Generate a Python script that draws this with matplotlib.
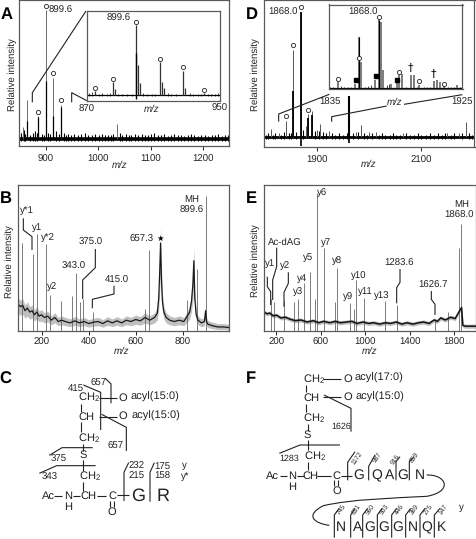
#MS spectra panels A-F with peptide structures
import matplotlib
matplotlib.use("Agg")
import matplotlib.pyplot as plt
from matplotlib.path import Path
from matplotlib.patches import PathPatch

plt.rcParams['font.family'] = ['Liberation Sans', 'DejaVu Sans']
plt.rcParams['mathtext.default'] = 'regular'
plt.rcParams['text.hinting'] = 'none'

W, H = 477, 539
FS = 6.9
INK = '#222222'
EDGE = '#5a5a5a'

# panel A, main spectrum
a_mz = [856, 865, 886, 900, 914.6, 928.5, 1035]
a_top = [9, 30, 17.5, 100, 47, 26.6, 12]
a_dark_mz = [865, 886, 900, 914.6, 928.5]
a_dark = [14, 17, 45, 18, 25]
a_noise_mz = [852, 858, 861, 870, 875, 879, 883, 892, 896, 905, 909, 920, 925, 934, 938, 943, 949, 953, 961, 968,
              974, 980, 988, 994, 1001, 1007, 1013, 1019, 1024, 1029, 1041, 1046, 1052, 1058, 1063, 1070, 1076, 1083,
              1089, 1095, 1101, 1106, 1113, 1120, 1126, 1132, 1139, 1145, 1151, 1158, 1164, 1170, 1176, 1183, 1190,
              1196, 1203, 1209, 1216, 1223, 1229, 1236, 1242, 1247]
a_noise_h = [5, 7, 4, 3, 5, 6, 5, 4, 3, 5, 4, 6, 4, 5, 3, 4, 3, 4, 3, 4, 5, 3, 3, 4, 3, 4, 3, 3, 3, 4, 5, 3, 4, 3, 3,
             4, 3, 4, 3, 3, 4, 5, 3, 3, 4, 2, 3, 4, 3, 3, 2, 3, 4, 3, 2, 3, 3, 2, 3, 3, 4, 2, 3, 3]
a_circle_mz = [886, 900, 914.6, 928.5]
a_circle_h = [21, 103, 51, 30]

# panel A, inset
ai_mz = [874.6, 885.9, 887, 899.7, 901, 902, 913.8, 915, 916.2, 927.9, 929, 940.8]
ai_top = [6, 19, 9, 100, 43, 17, 47, 19, 10, 35, 11, 3]
ai_noise_mz = [871, 873, 877, 879, 882, 884, 889, 891, 894, 897, 904, 906, 909, 911, 919, 921, 924, 932, 934, 937,
               939, 943, 945, 947, 949]
ai_noise_h = [3, 4, 2, 3, 2, 3, 2, 1.5, 2, 2, 3, 2, 1.5, 2, 3, 2, 1.5, 3, 2, 1.5, 2, 1.5, 2, 2, 3]
ai_circle_mz = [874.6, 885.9, 899.7, 913.8, 927.9, 940.8]
ai_circle_h = [10, 23, 105, 52, 40, 7]

# panel D, main spectrum
d_mz = [1812, 1826, 1841, 1854, 1868.6, 1878, 1883, 1890, 1899, 1906, 1922, 1974, 1984, 2000, 2012, 2065, 2150, 2173, 2185]
d_top = [6.7, 3, 13, 70, 100, 9, 18.7, 20.5, 6, 10.7, 5, 4, 10, 4, 4, 3, 3, 3.5, 12]
d_dark_mz = [1854, 1868.6, 1883, 1890]
d_dark = [37, 100, 15, 18]
d_noise_mz = [1802, 1806, 1815, 1820, 1831, 1836, 1846, 1850, 1860, 1873, 1895, 1903, 1911, 1917, 1928, 1935, 1942,
              1950, 1958, 1968, 1979, 1990, 1995, 2005, 2018, 2024, 2031, 2039, 2045, 2052, 2059, 2071, 2078, 2086,
              2093, 2100, 2108, 2116, 2124, 2131, 2139, 2145, 2156, 2163, 2178, 2192, 2198]
d_noise_h = [2, 3, 2, 3, 2, 4, 3, 3, 4, 6, 5, 5, 4, 3, 3, 2, 3, 2, 3, 3, 4, 3, 2, 3, 2, 3, 2, 2, 3, 2, 2, 3, 2, 2, 3,
             2, 2, 3, 2, 3, 2, 3, 2, 3, 3, 3, 2]
d_below_mz = [1868.6, 1962]
d_below = [-7, -5]
d_thick_mz = [1962]
d_thick_h = [33]
d_circle_mz = [1841, 1854, 1868.6, 1883]
d_circle_h = [17, 74, 104, 22]

# panel D, inset
di_mz = [1841, 1852.4, 1855, 1855.5, 1856.4, 1866, 1868.6, 1870, 1871.5, 1877, 1880.6, 1882, 1884, 1890, 1892, 1896,
         1906, 1907.6, 1910, 1912.6, 1921]
di_top = [9, 6, 38, 75, 38, 11, 100, 96, 26, 6, 9, 19, 20, 19, 19, 5, 10, 11, 9, 4, 4]
di_noise_mz = [1836, 1838, 1843, 1845, 1848, 1850, 1859, 1861, 1863, 1874, 1875.5, 1887, 1894, 1899, 1901, 1903,
               1915, 1917, 1919, 1923]
di_noise_h = [2, 1.5, 3, 2, 2, 1.5, 2, 3, 4, 5, 6, 2, 2, 2, 1.5, 2, 2, 1.5, 2, 2]
di_circle_mz = [1841, 1855, 1868.6, 1882, 1896, 1912.6]
di_circle_h = [13, 44, 103, 24, 10, 6]
di_square_mz = [1853, 1866.5, 1881]
di_square_h = [12, 17, 12]
di_dagger_mz = [1890, 1905.5]
di_dagger_h = [29, 21]

# panel B
b_mz = [115, 160, 177, 217, 234, 281, 327, 345, 361, 375, 416, 641, 658, 818, 862, 898]
b_top = [65, 57, 72, 64, 26.5, 22, 26, 42.6, 21.5, 24, 14, 16.6, 60, 23, 45.8, 100]
b_bg_mz = [98, 108, 118, 128, 138, 148, 158, 168, 178, 188, 198, 210, 225, 240, 255, 270, 285, 300, 320, 340, 360, 380,
           400, 420, 440, 460, 480, 500, 520, 540, 560, 580, 600, 620, 640, 660, 680, 692, 698, 702, 706, 710, 714,
           720, 730, 745, 765, 785, 805, 820, 830, 838, 844, 848, 852, 858, 866, 880, 893, 898, 902, 908, 925, 950,
           975, 1000]
b_bg = [20, 18, 19, 15, 17, 14, 15, 12, 14, 11, 12, 10, 11, 8, 10, 7, 8, 7, 6, 7.5, 6, 7, 5.5, 6.5, 7, 5.5, 7.5, 6,
        7.5, 6, 8, 7, 8.5, 7.5, 10, 8, 10, 13, 24, 42, 65, 38, 22, 14, 10, 8, 7, 8, 7, 11, 14, 22, 35, 52, 24, 12,
        8, 6, 7, 15, 7, 5, 4, 3, 3, 2.5]

# panel E
e_mz = [152, 176, 269, 356, 392, 446, 503, 545, 563, 632, 731, 746, 860, 896, 917, 986, 1174, 1285, 1630, 1750, 1849, 1867]
e_top = [23.5, 21, 22, 21, 23.5, 34.5, 43, 23.5, 100, 60, 21, 46, 20.6, 16, 37, 24, 21.6, 18.7, 9, 14, 60, 78]
e_bg_mz = [92, 115, 140, 170, 200, 240, 280, 325, 370, 420, 475, 530, 580, 625, 680, 730, 775, 830, 880, 925, 980, 1030,
           1075, 1130, 1180, 1225, 1280, 1330, 1375, 1430, 1480, 1525, 1575, 1620, 1650, 1680, 1720, 1770, 1810, 1845,
           1868, 1880, 1900, 1950, 1998]
e_bg = [13.5, 12.5, 13, 11, 11.5, 9.5, 10, 8.5, 7.5, 8, 6.5, 7.5, 6, 7, 6, 7, 6, 6.5, 7, 5.5, 6.5, 5.5, 6, 5, 6, 5.5,
        6.5, 5, 6, 5, 6, 6.5, 5.5, 8, 7, 9.5, 8, 10, 9, 14, 17, 4, 3.5, 3.5, 3.5]

a_ticks = [900, 1000, 1100, 1200]
d_ticks = [1900, 2100]
b_ticks = [200, 400, 600, 800]
e_ticks = [200, 600, 1000, 1400, 1800]

fig = plt.figure(figsize=(W / 100, H / 100), dpi=100)


def make_ax(x0, y0, x1, y1, xlim, ylim, ticks=None, z=1, pad=3.5):
    ax = fig.add_axes([x0 / W, 1 - y1 / H, (x1 - x0) / W, (y1 - y0) / H], zorder=z)
    ax.set_xlim(*xlim)
    ax.set_ylim(*ylim)
    ax.set_yticks([])
    if ticks:
        ax.set_xticks(ticks)
        ax.tick_params(axis='x', length=3, width=0.7, color=INK, labelsize=FS, labelcolor=INK, pad=pad)
    else:
        ax.set_xticks([])
    for s in ax.spines.values():
        s.set_linewidth(0.9)
        s.set_color(EDGE)
    return ax


def sticks(ax, mz, h, lw=0.6, color='#555555'):
    ax.vlines(mz, 0, h, colors=color, linewidth=lw)


# full figure layer in pixels, structure drawings and labels go here
ov = fig.add_axes([0, 0, 1, 1], zorder=5)
ov.set_xlim(0, W)
ov.set_ylim(H, 0)
ov.axis('off')
ov.patch.set_alpha(0)


def seg(ox, oy, pts, lw=0.7, color=INK):
    ov.plot([ox + p[0] / 3 for p in pts], [oy + p[1] / 3 for p in pts], color=color, lw=lw,
            solid_capstyle='butt', solid_joinstyle='miter')


def txt(ox, oy, x, y, s, size=FS, **kw):
    kw.setdefault('ha', 'center')
    kw.setdefault('va', 'center')
    kw.setdefault('color', INK)
    ov.text(ox + x / 3, oy + y / 3, s, fontsize=size, **kw)


def rot_ylabel(x, y):
    ov.text(x, y, 'Relative intensity', rotation=90, ha='center', va='center', fontsize=FS, color=INK)


def mz_label(x, y):
    ov.text(x, y, 'm/z', style='italic', ha='center', va='center', fontsize=FS, color=INK)


def circles(ax, mz, h):
    ax.plot(mz, h, 'o', ms=3, mfc='white', mec=INK, mew=0.6, ls='none', clip_on=False, zorder=6)


# A
ax = make_ax(19, 0, 229.5, 146, (849, 1250), (-5.4, 107.7), a_ticks)
ax.plot([849, 1250], [0, 0], color='black', lw=2.6)
ax.vlines(a_noise_mz, -1.5, a_noise_h, colors='black', linewidth=0.8)
sticks(ax, a_mz, a_top)
sticks(ax, a_dark_mz, a_dark, lw=0.9, color='black')
circles(ax, a_circle_mz, a_circle_h)
ins = make_ax(87, 11, 219.5, 100.5, (870, 950), (-7.5, 120), z=2)
ins.plot([870, 950], [0, 0], color='black', lw=0.9)
ins.vlines(ai_noise_mz, -1, ai_noise_h, colors='black', linewidth=0.5)
sticks(ins, ai_mz, ai_top, lw=0.9, color='#333333')
ins.vlines([899.7], -6, 60, colors='black', linewidth=1.0)
circles(ins, ai_circle_mz, ai_circle_h)
seg(0, 0, [(97, 307), (97, 278), (258, 33)], lw=0.8)
seg(0, 0, [(215, 307), (215, 278), (260, 302)], lw=0.8)
txt(0, 0, 182, 30, '899.6')
txt(0, 0, 357, 56, '899.6')
txt(0, 0, 260, 327, '870')
txt(0, 0, 659, 325, '950')
mz_label(152, 109)
mz_label(120, 165)
rot_ylabel(12, 75)
txt(0, 0, 19, 45, 'A', size=12, weight='bold', color='black')

# D
ax = make_ax(264, 0, 474.5, 146.5, (1798, 2202), (-7.5, 109.6), d_ticks)
ax.plot([1798, 2202], [0, 0], color='black', lw=2.0)
ax.vlines(d_noise_mz, -1.5, d_noise_h, colors='black', linewidth=0.8)
sticks(ax, d_mz, d_top, lw=0.7)
sticks(ax, d_dark_mz, d_dark, lw=1.3, color='black')
sticks(ax, d_below_mz, d_below, lw=1.2, color='black')
sticks(ax, d_thick_mz, d_thick_h, lw=1.5, color='black')
circles(ax, d_circle_mz, d_circle_h)
ins = make_ax(329, 4.5, 462.5, 89, (1835, 1925), (-1.5, 122))
ins.set_zorder(2)
ins.plot([1835, 1925], [0, 0], color='black', lw=0.9)
ins.vlines(di_noise_mz, -1, di_noise_h, colors='black', linewidth=0.5)
sticks(ins, di_mz, di_top, lw=1.2, color='#666666')
sticks(ins, [1855.5, 1868.6], [75, 100], lw=0.8, color='black')
ins.vlines([1868.6], -7, 0, colors='black', linewidth=1.0)
circles(ins, di_circle_mz, di_circle_h)
ins.plot(di_square_mz, di_square_h, 's', ms=2.8, color='black', ls='none', zorder=6)
for m, hh in zip(di_dagger_mz, di_dagger_h):
    ins.text(m, hh, '†', fontsize=8, ha='center', va='center', color='black', family='DejaVu Sans')
seg(240, 0, [(116, 365), (116, 342), (268, 283)], lw=0.8)
seg(240, 0, [(275, 365), (275, 350), (440, 318)], lw=0.8)
seg(240, 0, [(492, 313), (667, 284)], lw=0.8)
txt(240, 0, 128, 36, '1868.0')
txt(240, 0, 368, 38, '1868.0')
txt(240, 0, 270, 306, '1835')
txt(240, 0, 666, 306, '1925')
mz_label(240 + 465 / 3, 102)
mz_label(240 + 385 / 3, 164)
rot_ylabel(255, 75)
txt(240, 0, 36, 45, 'D', size=12, weight='bold', color='black')

# B
ax = make_ax(18, 185, 229.5, 331, (98, 1000), (0, 108), b_ticks, pad=1.8)
sticks(ax, b_mz, b_top, lw=0.6, color='#666666')
ax.fill_between(b_bg_mz, [v * 0.7 - 1 for v in b_bg], [v * 1.15 + 2 for v in b_bg], color='#c0c0c0', lw=0)
ax.plot(b_bg_mz, b_bg, color='#1a1a1a', lw=0.9)
txt(0, 165, 81, 137, 'y*1')
txt(0, 165, 110, 187, 'y1')
txt(0, 165, 145, 220, 'y*2')
txt(0, 165, 157, 367, 'y2')
txt(0, 165, 273, 231, '375.0')
txt(0, 165, 222, 305, '343.0')
txt(0, 165, 351, 347, '415.0')
txt(0, 165, 425, 224, '657.3')
txt(0, 165, 481, 222, '★', size=6, family='DejaVu Sans', color='black')
txt(0, 165, 576, 103, 'MH')
txt(0, 165, 575, 136, '899.6')
seg(0, 165, [(70, 160), (70, 195), (96, 215), (96, 255)], lw=0.8)
seg(0, 165, [(286, 252), (286, 308), (248, 345), (248, 402)], lw=0.8)
seg(0, 165, [(342, 362), (342, 387), (277, 403), (277, 430)], lw=0.8)
mz_label(122, 351)
rot_ylabel(9, 262)
txt(0, 165, 17, 100, 'B', size=12, weight='bold', color='black')

# E
ax = make_ax(264.5, 185, 476, 331, (92, 1998), (0, 106), e_ticks, pad=1.8)
sticks(ax, e_mz, e_top, lw=0.6, color='#666666')
ax.fill_between(e_bg_mz, [v - 1.5 for v in e_bg], [v + 1.5 for v in e_bg], color='#bdbdbd', lw=0)
ax.plot(e_bg_mz, e_bg, color='#111111', lw=1.1)
txt(240, 165, 90, 296, 'y1')
txt(240, 165, 135, 231, 'Ac-dAG')
txt(240, 165, 135, 304, 'y2')
txt(240, 165, 173, 383, 'y3')
txt(240, 165, 187, 339, 'y4')
txt(240, 165, 205, 276, 'y5')
txt(240, 165, 246, 84, 'y6')
txt(240, 165, 257, 232, 'y7')
txt(240, 165, 291, 288, 'y8')
txt(240, 165, 325, 396, 'y9')
txt(240, 165, 355, 333, 'y10')
txt(240, 165, 377, 378, 'y11')
txt(240, 165, 425, 393, 'y13')
txt(240, 165, 478, 294, '1283.6')
txt(240, 165, 578, 360, '1626.7')
txt(240, 165, 666, 119, 'MH')
txt(240, 165, 656, 152, '1868.0')
seg(240, 165, [(82, 335), (82, 365), (92, 380), (92, 420)], lw=0.8)
seg(240, 165, [(110, 248), (110, 305), (98, 345), (98, 405)], lw=0.8)
seg(240, 165, [(145, 322), (145, 355), (132, 382), (132, 425)], lw=0.8)
seg(240, 165, [(480, 312), (480, 352), (470, 368), (470, 415)], lw=0.8)
seg(240, 165, [(574, 378), (574, 403), (585, 418), (585, 450)], lw=0.8)
mz_label(240 + 388 / 3, 351)
rot_ylabel(255, 261)
txt(240, 165, 34, 102, 'E', size=12, weight='bold', color='black')

# C structure
OX, OY = 0, 335
txt(OX, OY, 17, 132, 'C', size=12, weight='bold', color='black')
for x, y, s in [(268, 188, 'CH$_2$'), (260, 246, 'CH'), (268, 310, 'CH$_2$'), (250, 361, 'S'), (270, 423, 'CH$_2$'),
                (368, 188, 'O'), (368, 243, 'O'), (465, 186, 'acyl(15:0)'), (467, 243, 'acyl(15:0)'),
                (144, 484, 'Ac'), (203, 484, 'N'), (203, 515, 'H'), (264, 484, 'CH'), (336, 484, 'C'), (336, 531, 'O')]:
    txt(OX, OY, x, y, s, size=8)
txt(OX, OY, 415, 483, 'G', size=13)
txt(OX, OY, 490, 483, 'R', size=13)
for x, y, s in [(295, 146, '657'), (228, 160, '415'), (348, 335, '657'), (177, 374, '375'), (148, 428, '343'),
                (411, 393, '232'), (409, 425, '215'), (488, 393, '175'), (488, 425, '158'), (552, 391, 'y'), (555, 424, 'y*')]:
    txt(OX, OY, x, y, s, size=FS)
for pts in [[(243, 208), (243, 232)], [(243, 262), (243, 292)], [(250, 326), (250, 348)], [(250, 376), (250, 408)],
            [(250, 440), (250, 468)], [(296, 188), (352, 188)], [(296, 245), (352, 245)],
            [(162, 484), (186, 484)], [(218, 484), (240, 484)], [(292, 484), (318, 484)], [(352, 480), (386, 480)],
            [(331, 497), (331, 516)], [(341, 497), (341, 516)],
            [(250, 150), (302, 172), (302, 285)], [(316, 130), (333, 147), (333, 205)],
            [(305, 238), (379, 277), (379, 348)],
            [(148, 361), (186, 338), (278, 338)], [(118, 415), (170, 392), (287, 392)],
            [(372, 498), (372, 412), (386, 383)], [(450, 500), (450, 412), (463, 383)]]:
    seg(OX, OY, pts, lw=0.8)

# F structure
OX, OY = 240, 335
txt(OX, OY, 34, 132, 'F', size=12, weight='bold', color='black')
for x, y, s in [(222, 132, 'CH$_2$'), (214, 188, 'CH'), (222, 250, 'CH$_2$'), (203, 301, 'S'), (225, 365, 'CH$_2$'),
                (322, 132, 'O'), (322, 187, 'O'), (418, 128, 'acyl(17:0)'), (420, 186, 'acyl(15:0)'),
                (98, 422, 'Ac'), (157, 422, 'N'), (157, 455, 'H'), (212, 422, 'CH'), (288, 422, 'C'), (290, 468, 'O')]:
    txt(OX, OY, x, y, s, size=8)
for x, s in [(355, 'G'), (411, 'Q'), (450, 'A'), (487, 'G'), (541, 'N')]:
    txt(OX, OY, x, 422, s, size=10)
for x, s in [(302, 'N'), (352, 'A'), (390, 'G'), (431, 'G'), (472, 'G'), (518, 'N'), (560, 'Q'), (603, 'K')]:
    txt(OX, OY, x, 578, s, size=10)
for x, y, s in [(303, 275, '1626'), (148, 371, '1283'), (664, 517, 'y')]:
    txt(OX, OY, x, y, s, size=6.4 if s != 'y' else FS)
for x, y, s in [(350, 368, '1172'), (412, 366, '987'), (467, 372, '916'), (522, 366, '859'),
                (305, 524, '745'), (350, 524, '631'), (390, 524, '560'), (433, 524, '503'), (477, 524, '446'),
                (522, 524, '389'), (565, 524, '275'), (610, 524, '147')]:
    txt(OX, OY, x, y, s, size=4.8, rotation=55)
for pts in [[(197, 150), (197, 172)], [(197, 208), (197, 232)], [(203, 268), (203, 288)], [(203, 315), (203, 345)],
            [(203, 380), (203, 405)], [(248, 132), (302, 132)], [(250, 187), (302, 187)],
            [(120, 422), (142, 422)], [(170, 422), (192, 422)], [(232, 422), (272, 422)], [(302, 422), (335, 422)],
            [(283, 436), (283, 454)], [(293, 436), (293, 454)],
            [(252, 180), (333, 220), (333, 290)], [(118, 355), (180, 330), (300, 330)],
            [(323, 436), (323, 382), (345, 350)], [(386, 436), (386, 394), (405, 360)],
            [(468, 436), (468, 380), (480, 365)], [(508, 436), (508, 380), (522, 365)],
            [(283, 608), (283, 540), (298, 520)], [(332, 608), (332, 540), (345, 520)],
            [(368, 608), (368, 540), (383, 520)], [(412, 608), (412, 540), (427, 520)],
            [(455, 608), (455, 540), (470, 520)], [(497, 608), (497, 540), (512, 520)],
            [(540, 608), (540, 540), (555, 520)], [(583, 608), (583, 540), (600, 520)]]:
    seg(OX, OY, pts, lw=0.8)
# loop joining the two peptide rows
loop = [(560, 420), (620, 418), (640, 470), (560, 484), (450, 490), (340, 492), (250, 512), (195, 540), (220, 565), (268, 571)]
codes = [Path.MOVETO] + [Path.CURVE4] * 9
ov.add_patch(PathPatch(Path([(OX + p[0] / 3, OY + p[1] / 3) for p in loop], codes), fc='none', ec=INK, lw=0.8))

fig.savefig('out.png', dpi=100)
